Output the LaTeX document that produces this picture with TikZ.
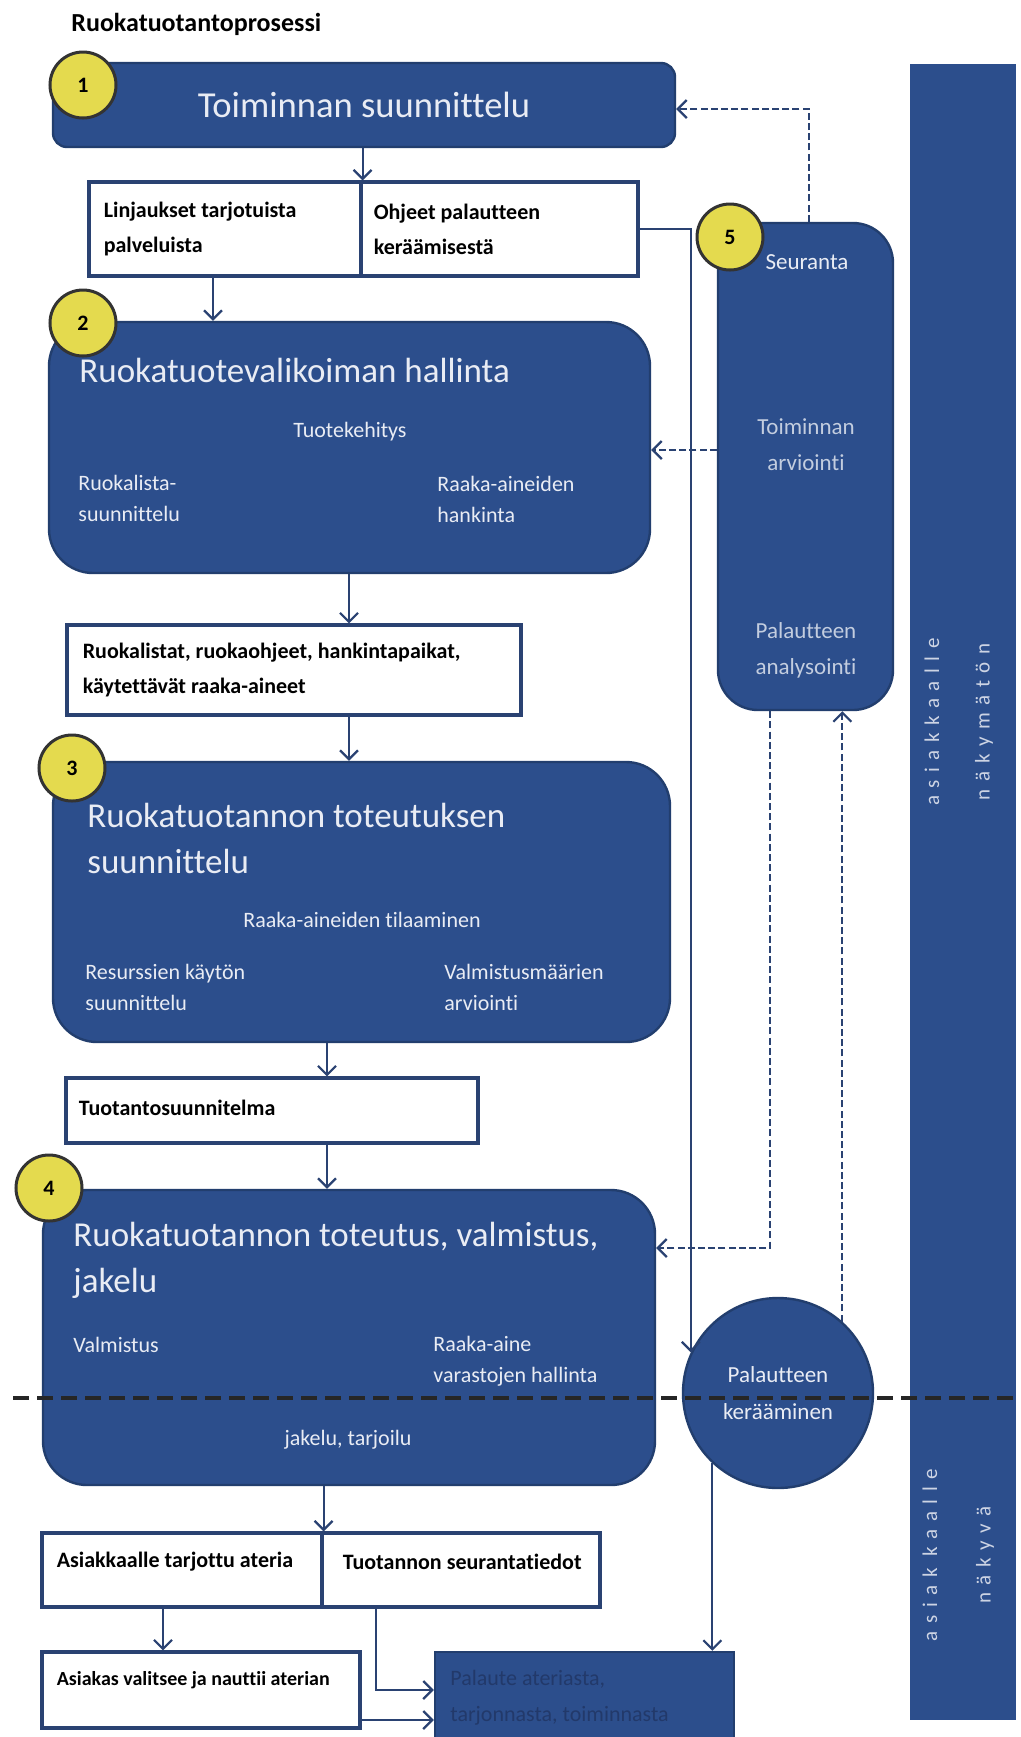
\documentclass[tikz,border=0pt]{standalone}
\usepackage{fontspec}
\setmainfont{Carlito}[Ligatures={TeX,NoCommon}]
\newfontfamily\spacedfont[LetterSpace=36]{Carlito}
\usetikzlibrary{arrows.meta}

\definecolor{procblue}{HTML}{2C4E8C}
\definecolor{procedge}{HTML}{223E6E}
\definecolor{linkblue}{HTML}{2A4272}
\definecolor{badgeyellow}{HTML}{E4DA4E}
\definecolor{paletext}{HTML}{E9ECF4}
\definecolor{dimtext}{HTML}{22396A}

\tikzset{
	bluebox/.style={draw=procedge, line width=1.2pt, fill=procblue, inner sep=0pt},
	whitebox/.style={draw=linkblue, line width=1.6pt, fill=white, inner sep=0pt},
	badge/.style={circle, draw=black!80, line width=1.5pt, fill=badgeyellow, minimum size=33pt, inner sep=0pt, font=\fontsize{11}{13}\selectfont\bfseries},
	link/.style={draw=linkblue, line width=1.1pt, -{Straight Barb[length=4.5pt,width=9pt]}},
	feedback/.style={link, dash pattern=on 3.5pt off 1.6pt},
	boxtitle/.style={text=paletext, font=\fontsize{17.5}{23}\selectfont, align=left, inner sep=0pt},
	boxtext/.style={text=paletext, font=\fontsize{11}{15.5}\selectfont, align=left, inner sep=0pt},
	labeltext/.style={font=\fontsize{11}{17.5}\selectfont\bfseries, align=left, inner sep=0pt},
	bartext/.style={text=paletext!85!procblue, font=\fontsize{10.5}{12}\spacedfont, inner sep=0pt, rotate=90}
}

\begin{document}
\begin{tikzpicture}[x=0.5pt, y=-0.5pt]
	\useasboundingbox[fill=white] (0, 0) rectangle (1021, 1737);
	% Header:
	\node[anchor=west, inner sep=0pt, font=\fontsize{13}{15}\selectfont\bfseries] (header) at (71, 24){Ruokatuotantoprosessi};
	% Process boxes:
	\node[bluebox, rounded corners=7pt, minimum width=311pt, minimum height=42pt, text=paletext, font=\fontsize{18.3}{21}\selectfont] (box1) at (364, 105){Toiminnan suunnittelu};
	\node[whitebox, minimum width=136pt, minimum height=47pt] (pair1a) at (225, 229){};
	\node[whitebox, minimum width=138.5pt, minimum height=47pt] (pair1b) at (499.5, 229){};
	\node[bluebox, rounded corners=22pt, minimum width=300.5pt, minimum height=125.5pt] (box2) at (349.5, 447.5){};
	\node[whitebox, minimum width=227pt, minimum height=45pt] (menus) at (294, 670){};
	\node[bluebox, rounded corners=22pt, minimum width=308.5pt, minimum height=140pt] (box3) at (361.5, 902){};
	\node[whitebox, minimum width=206pt, minimum height=32.5pt] (plan) at (272, 1110.5){};
	\node[bluebox, rounded corners=22pt, minimum width=306pt, minimum height=147.5pt] (box4) at (349, 1337.5){};
	\node[whitebox, minimum width=140pt, minimum height=37pt] (pair2a) at (182, 1570){};
	\node[whitebox, minimum width=139pt, minimum height=37pt] (pair2b) at (461, 1570){};
	\node[whitebox, minimum width=159pt, minimum height=38pt] (customer) at (201, 1690){};
	\node[bluebox, minimum width=149.5pt, minimum height=49pt] (palaute) at (584.5, 1701){};
	\node[bluebox, rounded corners=20pt, minimum width=87.5pt, minimum height=243.5pt] (seuranta) at (805.5, 466.5){};
	\node[bluebox, draw=none, minimum width=53pt, minimum height=828pt] (bar) at (963, 892){};
	\node[bluebox, circle, minimum size=95pt, text=paletext, align=center, font=\fontsize{11.5}{18.5}\selectfont] (fbcollect) at (778, 1393){Palautteen\\kerääminen};
	% Texts of the white boxes:
	\node[labeltext, anchor=west] (pair1a-text) at ([xshift=8pt]pair1a.west){Linjaukset tarjotuista\\palveluista};
	\node[labeltext, anchor=west] (pair1b-text) at ([xshift=7pt]pair1b.west){Ohjeet palautteen\\keräämisestä};
	\node[labeltext, anchor=west] (menus-text) at ([xshift=8.5pt]menus.west){Ruokalistat, ruokaohjeet, hankintapaikat,\\käytettävät raaka-aineet};
	\node[labeltext, anchor=west] (plan-text) at ([xshift=7pt, yshift=1.5pt]plan.west){Tuotantosuunnitelma};
	\node[labeltext, anchor=west] (pair2a-text) at ([xshift=8pt, yshift=4pt]pair2a.west){Asiakkaalle tarjottu ateria};
	\node[labeltext, anchor=west] (pair2b-text) at ([xshift=11pt, yshift=4pt]pair2b.west){Tuotannon seurantatiedot};
	\node[labeltext, anchor=west, font=\fontsize{10}{17}\selectfont\bfseries] (customer-text) at ([xshift=8pt, yshift=5pt]customer.west){Asiakas valitsee ja nauttii aterian};
	\node[anchor=west, inner sep=0pt, align=left, text=dimtext, font=\fontsize{11}{18}\selectfont] (palaute-text) at (450, 1698){Palaute ateriasta,\\tarjonnasta, toiminnasta};
	% Texts of the blue boxes:
	\node[boxtitle, anchor=west] (box2-title) at (79, 370){Ruokatuotevalikoiman hallinta};
	\node[boxtext] (box2-dev) at (350, 432){Tuotekehitys};
	\node[boxtext, anchor=west] (box2-menu) at (78, 498){Ruokalista-\\suunnittelu};
	\node[boxtext, anchor=west] (box2-buy) at (437, 499){Raaka-aineiden\\hankinta};
	\node[boxtitle, anchor=west] (box3-title) at (87, 838){Ruokatuotannon toteutuksen\\suunnittelu};
	\node[boxtext] (box3-order) at (362, 920){Raaka-aineiden tilaaminen};
	\node[boxtext, anchor=west] (box3-res) at (85, 987){Resurssien käytön\\suunnittelu};
	\node[boxtext, anchor=west] (box3-qty) at (444, 987){Valmistusmäärien\\arviointi};
	\node[boxtitle, anchor=west] (box4-title) at (73, 1260){Ruokatuotannon toteutus, valmistus,\\jakelu};
	\node[boxtext, anchor=west] (box4-make) at (73, 1345){Valmistus};
	\node[boxtext, anchor=west] (box4-store) at (433, 1361){Raaka-aine\\varastojen hallinta};
	\node[boxtext] (box4-serve) at (348, 1440){jakelu, tarjoilu};
	\node[boxtext, align=center, font=\fontsize{11.5}{18}\selectfont] (seur-title) at (807, 262){Seuranta};
	\node[boxtext, align=center, font=\fontsize{11.5}{18}\selectfont, text=paletext!80!procblue] (seur-eval) at (806, 445){Toiminnan\\arviointi};
	\node[boxtext, align=center, font=\fontsize{11.5}{18}\selectfont, text=paletext!80!procblue] (seur-anal) at (806, 650){Palautteen\\analysointi};
	\node[bartext] (bar-hidden1) at (932, 722){asiakkaalle};
	\node[bartext] (bar-hidden2) at (984, 722){näkymätön};
	\node[bartext] (bar-shown1) at (930, 1555){asiak kaalle};
	\node[bartext] (bar-shown2) at (985, 1555){näkyvä};
	% Connectors:
	\coordinate (col1) at (213, 0);
	\coordinate (col2) at (349, 0);
	\coordinate (col3) at (327, 0);
	\coordinate (col4) at (163, 0);
	\coordinate (col5) at (376, 0);
	\coordinate (fbin1) at (0, 1690);
	\coordinate (fbin2) at (0, 1720);
	\draw[link] (box1.south -| pair1a.east) -- (pair1a.north east);
	\draw[link] (pair1a.south -| col1) -- (box2.north -| col1);
	\draw[link] (box2.south -| col2) -- (menus.north -| col2);
	\draw[link] (menus.south -| col2) -- (box3.north -| col2);
	\draw[link] (box3.south -| col3) -- (plan.north -| col3);
	\draw[link] (plan.south -| col3) -- (box4.north -| col3);
	\draw[link] (box4.south -| pair2a.east) -- (pair2a.north east);
	\draw[link] (pair2a.south -| col4) -- (customer.north -| col4);
	\draw[link] (pair2b.south -| col5) |- (palaute.west |- fbin1);
	\draw[link] (customer.east |- fbin2) -- (palaute.west |- fbin2);
	\draw[link] (pair1b.east) -| (fbcollect.155);
	\draw[link] (fbcollect.227) -- (fbcollect.227 |- palaute.north);
	% Feedback loops:
	\coordinate (topbend) at (809, 109);
	\coordinate (midbend) at (0, 450);
	\coordinate (lowbend) at (770, 1248);
	\draw[feedback] (seuranta.north -| topbend) |- (box1.east |- topbend);
	\draw[feedback] (seuranta.west |- midbend) -- (box2.east |- midbend);
	\draw[feedback] (seuranta.south -| lowbend) |- (box4.east |- lowbend);
	\draw[feedback] (fbcollect.48) -- (fbcollect.48 |- seuranta.south);
	% Number badges:
	\node[badge] (badge1) at (83, 85){1};
	\node[badge] (badge2) at (83, 323){2};
	\node[badge] (badge3) at (72, 768){3};
	\node[badge] (badge4) at (49, 1188){4};
	\node[badge] (badge5) at (730, 237){5};
	% Visibility line:
	\coordinate (sepL) at (13, 1398);
	\coordinate (sepR) at (1021, 1398);
	\draw[black!85, line width=2.2pt, dash pattern=on 8pt off 4pt] (sepL) -- (sepR);
\end{tikzpicture}
\end{document}
